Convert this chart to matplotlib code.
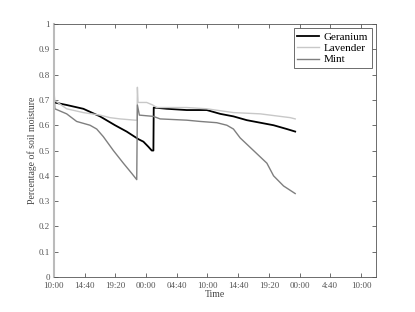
import matplotlib
matplotlib.use("Agg")
import matplotlib.pyplot as plt

# time in minutes after 10:00 on day 1
tick_minutes = [0, 280, 560, 840, 1120, 1400, 1680, 1960, 2240, 2520, 2800]
tick_labels = ["10:00", "14:40", "19:20", "00:00", "04:40", "10:00",
               "14:40", "19:20", "00:00", "4:40", "10:00"]

geranium_t = [3, 116, 268, 420, 557, 663, 770, 816, 861, 892, 907, 910,
              1029, 1211, 1394, 1516, 1637, 1759, 1881, 2003, 2124, 2200]
geranium_y = [0.69, 0.68, 0.665, 0.635, 0.60, 0.575, 0.545, 0.535, 0.515, 0.50, 0.50, 0.67,
              0.665, 0.66, 0.66, 0.645, 0.635, 0.62, 0.61, 0.60, 0.585, 0.575]

lavender_t = [0, 116, 268, 420, 511, 603, 740, 758, 761, 767, 846, 901, 937,
              1211, 1394, 1637, 1881, 2063, 2155, 2200]
lavender_y = [0.70, 0.665, 0.65, 0.64, 0.63, 0.625, 0.62, 0.62, 0.75, 0.69, 0.69, 0.68, 0.67,
              0.67, 0.665, 0.65, 0.645, 0.635, 0.63, 0.625]

mint_t = [0, 3, 8, 116, 207, 329, 390, 450, 542, 633, 709, 755, 761, 779, 907, 968,
          1211, 1333, 1485, 1577, 1637, 1698, 1820, 1942, 2003, 2094, 2200]
mint_y = [0.55, 0.72, 0.665, 0.645, 0.615, 0.60, 0.585, 0.555, 0.50, 0.45, 0.41, 0.385, 0.68, 0.64, 0.635, 0.625,
          0.62, 0.615, 0.61, 0.60, 0.585, 0.55, 0.50, 0.45, 0.40, 0.36, 0.33]

plt.rcParams['font.family'] = ['Liberation Serif', 'DejaVu Serif']

fig = plt.figure(figsize=(4.15, 3.12), dpi=100)
ax = fig.add_axes([0.130, 0.112, 0.776, 0.811])

ax.plot(geranium_t, geranium_y, color='black', lw=1.3, label='Geranium')
ax.plot(lavender_t, lavender_y, color='#c8c8c8', lw=1.0, label='Lavender')
ax.plot(mint_t, mint_y, color='#7f7f7f', lw=1.0, label='Mint')

ax.set_xlim(0, 2937)
ax.set_ylim(0, 1)
ax.set_xticks(tick_minutes)
ax.set_xticklabels(tick_labels)
ax.set_yticks([i / 10 for i in range(11)])
ax.set_yticklabels(["0", "0.1", "0.2", "0.3", "0.4", "0.5", "0.6", "0.7", "0.8", "0.9", "1"])

ax.tick_params(direction='in', top=True, right=True, length=3, width=0.6,
               labelsize=6.5, colors='#555555')
ax.tick_params(axis='x', pad=3.5)
ax.tick_params(axis='y', pad=3)
for side in ['top', 'right', 'bottom']:
    ax.spines[side].set_color('#555555')
    ax.spines[side].set_linewidth(0.6)
ax.spines['left'].set_color('#bbbbbb')
ax.spines['left'].set_linewidth(1.5)

ax.set_xlabel("Time", fontsize=7, color='#444444', labelpad=0)
ax.set_ylabel("Percentage of soil moisture", fontsize=7, color='#444444', labelpad=1)

leg = ax.legend(loc='upper right', fontsize=8, fancybox=False, framealpha=1,
                edgecolor='#555555', borderpad=0.3, labelspacing=0.15,
                handlelength=2.0, handletextpad=0.4, borderaxespad=0.4)
leg.get_frame().set_linewidth(0.6)

fig.savefig("out.png", dpi=100)
